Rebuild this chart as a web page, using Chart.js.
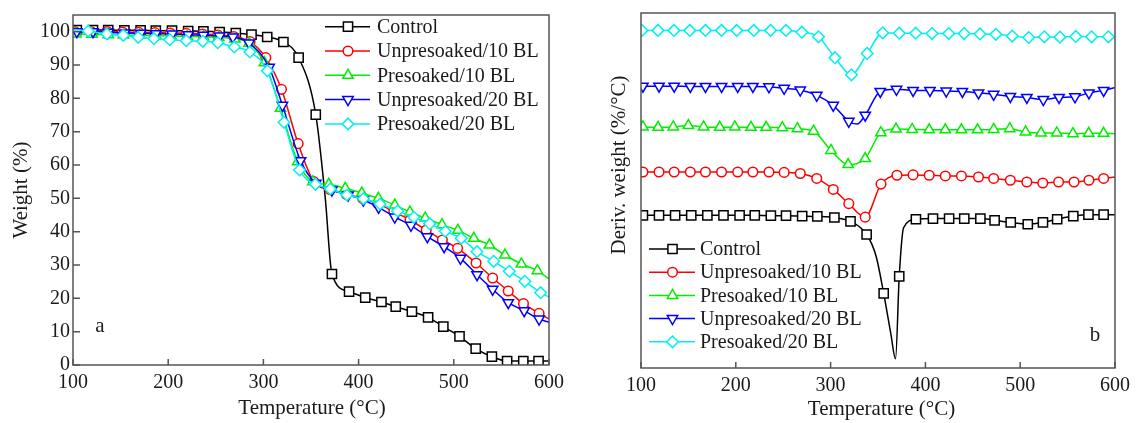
<!DOCTYPE html>
<html>
<head>
<meta charset="utf-8">
<script src="https://cdn.jsdelivr.net/npm/chart.js@4.4.1/dist/chart.umd.min.js"></script>
<style>
  html, body { margin: 0; padding: 0; background: #fff; }
  #wrapA { position: absolute; left: 0; top: 0; width: 570px; height: 423px; }
  #wrapB { position: absolute; left: 570px; top: 0; width: 566px; height: 423px; }
</style>
</head>
<body>
<div id="wrapA"><canvas id="tga"></canvas></div>
<div id="wrapB"><canvas id="dtg"></canvas></div>
<script>
// series names (same in both panels)
const seriesNames = ['Control', 'Unpresoaked/10 BL', 'Presoaked/10 BL', 'Unpresoaked/20 BL', 'Presoaked/20 BL'];

// ---- panel a : weight (%) vs temperature, marker points ----
const tgaCtrlT = [104,121,137,154,171,187,204,221,237,254,271,287.5,304,321,337,355,372,390,407,424,439,456,473,489,506,523,540,556,573,589];
const tgaCtrlW = [100.5,100.5,100.5,100.4,100.4,100.3,100.3,100.2,100.1,99.9,99.6,99.1,98.4,96.9,92.2,75.1,27.3,22.0,20.2,18.9,17.5,16.0,14.3,11.5,8.6,4.9,2.5,1.2,1.2,1.2];
const tgaU10T = [102,119,136,152,169,186,202,219,236,252,269,286,302.5,319,336.5,353,370,387,404,420,437,454,471,488,504,523.4,540.8,557.2,573.2,589.6];
const tgaU10W = [100,100,100,99.9,99.8,99.7,99.6,99.5,99.3,99,98.5,97,92.2,82.7,66.4,55,52.6,51.2,50,48.4,46,43.5,40.5,37.5,35,30.6,26.1,22.2,18.4,15.5];
const tgaP10T = [103,120,137,153,170,187,203,220,237,253,270,285,301,318,336,352,368.7,386,403.4,420.8,438,453.9,470,487.6,504.3,521,537.4,553.7,571,587.8];
const tgaP10W = [99.3,99.2,99.1,99,98.9,98.8,98.7,98.6,98.5,98.3,97.8,96.5,90.7,77,61,55,54.2,53,51.6,50,48,45.9,44.1,42.1,40.4,38,36,33,30.3,28.3];
const tgaU20T = [104,121,137,154,171,187,204,221,237,254,268,285,306,320,339,355,372,389,405,421,438,455,472.2,489.8,507,524.4,540.8,557.2,573.9,589.6];
const tgaU20W = [100,100,99.8,99.6,99.5,99.4,99.3,99.1,98.9,98.7,98.4,96.6,89.3,77.9,61.3,54.5,52.5,51,49.5,47.3,44.4,41.9,38.5,35.5,32,27.1,22.7,18.7,16.3,13.8];
const tgaP20T = [116,135.5,152.8,168.5,185,201.6,219,236.3,252,269.4,285.8,304.2,321.6,338,354.7,370.3,387.7,405,422.5,441,458,474.7,491,507.7,524.4,541.9,558.3,574.6,591.2];
const tgaP20W = [100.2,99.3,98.9,98.3,97.9,97.6,97.3,97.1,96.7,95.4,93.9,88.3,72.8,58.5,54.2,52.8,51,49.9,48.3,46.2,44.3,42.4,40.1,38,34,31.1,28.1,25.1,21.7];
// line-only points (no marker): curve ends and sharp bends
const tgaCtrlLineT = [100, 365, 600];
const tgaCtrlLineW = [100.5, 50, 1.2];
const tgaU10LineT = [100, 600];
const tgaU10LineW = [100, 13.8];
const tgaP10LineT = [100, 600];
const tgaP10LineW = [99.3, 25.8];
const tgaU20LineT = [100, 600];
const tgaU20LineW = [100, 12.8];
const tgaP20LineT = [100, 600];
const tgaP20LineW = [100.6, 20.4];

// ---- panel b : derivative weight (offset curves, arbitrary units) ----
const dtgCtrlT = [102,119,136,153,170,187,204,220,237,253,270,286,304,321,338,356,372.4,390,408,425,441,458,473,490,508,524,539,556,572,588];
const dtgCtrlV = [43,43,43,43,43,43,43,43,42.9,42.9,42.8,42.7,42.4,41.3,37.6,21,25.8,41.9,42.1,42.1,42.1,42.1,41.6,41,40.5,41,41.9,42.8,43.2,43.2];
const dtgU10T = [102,119,135,152,168,185,202,218,235,251,268,285.4,302.8,319.2,336.5,353.2,370,387,404,421,438,456,472,489.6,507,523.8,540.5,556.8,572.5,588];
const dtgU10V = [55.2,55.2,55.2,55.2,55.2,55.2,55.2,55.2,55.2,55.1,54.8,53.4,50.3,46.3,42.5,51.8,54.3,54.4,54.3,54.1,54.1,53.8,53.4,52.9,52.4,52.1,52.4,52.4,52.9,53.4];
const dtgP10T = [102,118,134,150,166,183,199,216,232,249,265,282,300.4,318.5,336.5,353,369,386,404,421,438,455,472,489,505.6,522,538.6,555.6,572.3,588];
const dtgP10V = [67.9,67.8,67.9,68.3,67.9,67.8,67.9,67.8,67.8,67.7,67.4,66.7,61.3,57.3,59,66.3,67.3,67.2,67.1,67.1,67.1,67.1,67.2,67.4,66.5,66.2,66.2,66,66.1,66.1];
const dtgU20T = [102,119,135,152,168,185,202,218,235,251,268,285.4,302.8,319.2,336.5,352.4,369.5,387,404.8,422,439,456,472,489.6,507,524.4,541,557.8,572.5,588];
const dtgU20V = [79.4,79.4,79.4,79.3,79.3,79.3,79.3,79.3,79.2,78.8,78.3,76.8,74,69.5,71.2,77.9,78.5,78.2,78.2,78,77.9,77.5,77.1,76.5,76.2,75.6,76.2,76.4,77.5,78.2];
const dtgP20T = [101,118,134.8,151.5,168,184.9,201,219,236.7,253,269.7,287.2,304.6,322,338.6,355,372.4,389.8,407,424.6,440.9,457.6,474.3,491.6,509,525.5,541.9,558.6,575.3,593];
const dtgP20V = [95.1,95.1,95.1,95.1,95.1,95.1,95.1,95.1,95.1,95.1,94.6,93.3,87.4,82.6,88.6,94.4,94.3,94.3,94.2,94.2,94.2,94.1,94,93.5,93.1,93.3,93.2,93.4,93.3,93.3];
const dtgCtrlLineT = [100, 348, 363.5, 368.5, 377, 600];
const dtgCtrlLineV = [43, 31.5, 9.7, 2.6, 39.5, 43.2];
const dtgU10LineT = [100, 600];
const dtgU10LineV = [55.2, 53.8];
const dtgP10LineT = [100, 600];
const dtgP10LineV = [67.9, 66];
const dtgU20LineT = [100, 328, 600];
const dtgU20LineV = [79.4, 68.7, 79];
const dtgP20LineT = [100, 600];
const dtgP20LineV = [95.1, 93.4];

const xTicks = [100, 200, 300, 400, 500, 600];
const weightTicks = [0, 10, 20, 30, 40, 50, 60, 70, 80, 90, 100];

// look of each series
const styles = [
  { color: '#000000', mark: 'rect',     rot: 0,   r: 6.5 },
  { color: '#ff0000', mark: 'circle',   rot: 0,   r: 4.8 },
  { color: '#00ee00', mark: 'triangle', rot: 0,   r: 6 },
  { color: '#0000ff', mark: 'triangle', rot: 180, r: 6 },
  { color: '#00f0f0', mark: 'rectRot',  rot: 0,   r: 5.8 }
];
const FONT = 'Liberation Serif, Times New Roman, serif';
const frameColor = '#555';
const textColor = '#1a1a1a';

Chart.defaults.font.family = FONT;
Chart.defaults.font.size = 20;
Chart.defaults.color = textColor;

function buildSet(i, markT, markV, lineT, lineV) {
  const pts = [];
  markT.forEach((t, k) => pts.push({ x: t, y: markV[k], m: true }));
  lineT.forEach((t, k) => pts.push({ x: t, y: lineV[k], m: false }));
  pts.sort((p, q) => p.x - q.x);
  const s = styles[i];
  return {
    label: seriesNames[i],
    data: pts,
    order: 4 - i,
    borderColor: s.color,
    backgroundColor: '#fff',
    borderWidth: 1.5,
    pointStyle: s.mark,
    pointRotation: s.rot,
    pointBackgroundColor: '#fff',
    pointBorderColor: s.color,
    pointBorderWidth: 1.5,
    pointRadius: c => (c.raw && c.raw.m ? s.r : 0),
    cubicInterpolationMode: 'monotone',
    fill: false
  };
}

function drawMark(ctx, s, x, y) {
  const r = s.r;
  ctx.beginPath();
  if (s.mark === 'circle') {
    ctx.arc(x, y, r, 0, Math.PI * 2);
  } else if (s.mark === 'rect') {
    const h = r * Math.SQRT1_2;
    ctx.rect(x - h, y - h, 2 * h, 2 * h);
  } else if (s.mark === 'rectRot') {
    ctx.moveTo(x, y - r); ctx.lineTo(x + r, y); ctx.lineTo(x, y + r); ctx.lineTo(x - r, y);
  } else {
    let a = s.rot * Math.PI / 180;
    for (let k = 0; k < 3; k++) {
      const px = x + Math.sin(a) * r, py = y - Math.cos(a) * r;
      if (k === 0) ctx.moveTo(px, py); else ctx.lineTo(px, py);
      a += 2 * Math.PI / 3;
    }
  }
  ctx.closePath();
  ctx.fillStyle = '#fff';
  ctx.fill();
  ctx.stroke();
}

// frame, inner ticks, axis titles, panel letter and legend
const panelDeco = {
  id: 'panelDeco',
  afterDatasetsDraw(chart, args, o) {
    const ctx = chart.ctx, a = chart.chartArea;
    ctx.save();
    ctx.strokeStyle = frameColor;
    ctx.lineWidth = 1.5;
    ctx.strokeRect(a.left, a.top, a.right - a.left, a.bottom - a.top);
    ctx.beginPath();
    chart.scales.x.ticks.forEach(t => {
      const px = chart.scales.x.getPixelForValue(t.value);
      ctx.moveTo(px, a.bottom); ctx.lineTo(px, a.bottom - 6);
    });
    if (o.yTicks) {
      chart.scales.y.ticks.forEach(t => {
        const py = chart.scales.y.getPixelForValue(t.value);
        ctx.moveTo(a.left, py); ctx.lineTo(a.left + 7, py);
      });
    }
    ctx.stroke();

    ctx.fillStyle = textColor;
    ctx.font = '21px ' + FONT;
    ctx.textAlign = 'center';
    ctx.textBaseline = 'middle';
    ctx.fillText(o.xTitle.text, o.xTitle.x, o.xTitle.y);
    ctx.save();
    ctx.translate(o.yTitle.x, o.yTitle.y);
    ctx.rotate(-Math.PI / 2);
    ctx.fillText(o.yTitle.text, 0, 0);
    ctx.restore();
    ctx.fillText(o.letter.text, o.letter.x, o.letter.y);

    ctx.font = '20px ' + FONT;
    ctx.textAlign = 'left';
    const lg = o.legend;
    chart.data.datasets.forEach((d, i) => {
      const s = styles[i];
      const y = lg.y0 + i * lg.dy;
      ctx.strokeStyle = s.color;
      ctx.lineWidth = 1.5;
      ctx.beginPath();
      ctx.moveTo(lg.x0, y); ctx.lineTo(lg.x1, y);
      ctx.stroke();
      drawMark(ctx, s, lg.xm, y);
      ctx.fillStyle = textColor;
      ctx.fillText(d.label, lg.tx, y + 1);
    });
    ctx.restore();
  }
};

function xScale(h) {
  return {
    type: 'linear', min: 100, max: 600,
    afterBuildTicks: s => { s.ticks = xTicks.map(v => ({ value: v })); },
    afterFit: s => { s.height = h; },
    grid: { display: false, drawTicks: false },
    border: { display: false },
    ticks: { padding: 6, font: { size: 20 }, color: textColor }
  };
}

new Chart(document.getElementById('tga'), {
  type: 'line',
  data: {
    datasets: [
      buildSet(0, tgaCtrlT, tgaCtrlW, tgaCtrlLineT, tgaCtrlLineW),
      buildSet(1, tgaU10T, tgaU10W, tgaU10LineT, tgaU10LineW),
      buildSet(2, tgaP10T, tgaP10W, tgaP10LineT, tgaP10LineW),
      buildSet(3, tgaU20T, tgaU20W, tgaU20LineT, tgaU20LineW),
      buildSet(4, tgaP20T, tgaP20W, tgaP20LineT, tgaP20LineW)
    ]
  },
  options: {
    responsive: true,
    maintainAspectRatio: false,
    animation: false,
    layout: { padding: { left: 0, top: 10, right: 18, bottom: 0 } },
    scales: {
      x: xScale(58),
      y: {
        type: 'linear', min: 0, max: 105,
        ticks: { padding: 3, autoSkip: false, font: { size: 20 }, color: textColor },
        afterBuildTicks: s => { s.ticks = weightTicks.map(v => ({ value: v })); },
        afterFit: s => { s.width = 73; },
        grid: { display: false, drawTicks: false },
        border: { display: false }
      }
    },
    plugins: {
      legend: { display: false },
      tooltip: { enabled: false },
      panelDeco: {
        yTicks: true,
        xTitle: { text: 'Temperature (°C)', x: 312, y: 408 },
        yTitle: { text: 'Weight (%)', x: 21, y: 190 },
        letter: { text: 'a', x: 100, y: 326 },
        legend: { x0: 325, x1: 370, xm: 348, tx: 377, y0: 26.7, dy: 24.3 }
      }
    }
  },
  plugins: [panelDeco]
});

new Chart(document.getElementById('dtg'), {
  type: 'line',
  data: {
    datasets: [
      buildSet(0, dtgCtrlT, dtgCtrlV, dtgCtrlLineT, dtgCtrlLineV),
      buildSet(1, dtgU10T, dtgU10V, dtgU10LineT, dtgU10LineV),
      buildSet(2, dtgP10T, dtgP10V, dtgP10LineT, dtgP10LineV),
      buildSet(3, dtgU20T, dtgU20V, dtgU20LineT, dtgU20LineV),
      buildSet(4, dtgP20T, dtgP20V, dtgP20LineT, dtgP20LineV)
    ]
  },
  options: {
    responsive: true,
    maintainAspectRatio: false,
    animation: false,
    layout: { padding: { left: 0, top: 13, right: 16, bottom: 0 } },
    scales: {
      x: xScale(55),
      y: {
        type: 'linear', min: 0, max: 100,
        ticks: { display: false },
        afterFit: s => { s.width = 71; },
        grid: { display: false, drawTicks: false },
        border: { display: false }
      }
    },
    plugins: {
      legend: { display: false },
      tooltip: { enabled: false },
      panelDeco: {
        yTicks: false,
        xTitle: { text: 'Temperature (°C)', x: 311.5, y: 409 },
        yTitle: { text: 'Deriv. weight (%/°C)', x: 49, y: 165 },
        letter: { text: 'b', x: 525, y: 335 },
        legend: { x0: 79, x1: 125, xm: 102.5, tx: 130, y0: 249, dy: 23.2 }
      }
    }
  },
  plugins: [panelDeco]
});
</script>
</body>
</html>
